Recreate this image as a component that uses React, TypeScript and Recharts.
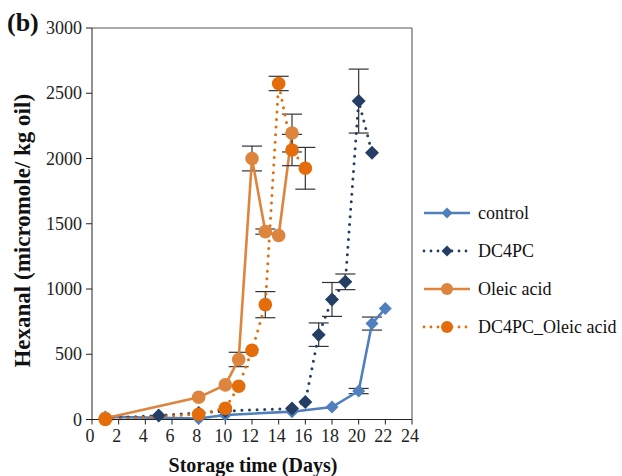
import { LineChart, Line, XAxis, YAxis, ErrorBar, ReferenceLine, Label } from 'recharts';

const SERIF = '"Liberation Serif", "Times New Roman", serif';

// day on the x axis, hexanal in micromole/kg oil, ± error for each point
const controlDays = [1, 8, 10, 15, 18, 20, 21, 22];
const controlHexanal = [20, 8, 35, 60, 95, 218, 735, 850];
const controlErr = [0, 0, 0, 0, 0, 20, 50, 0];

const dc4pcDays = [1, 5, 8, 10, 15, 16, 17, 18, 19, 20, 21];
const dc4pcHexanal = [10, 30, 50, 65, 85, 135, 650, 920, 1055, 2440, 2045];
const dc4pcErr = [0, 0, 0, 0, 0, 0, 90, 130, 60, 245, 0];

const oleicDays = [1, 8, 10, 11, 12, 13, 14, 15];
const oleicHexanal = [10, 170, 265, 460, 2000, 1440, 1410, 2195];
const oleicErr = [0, 0, 0, 55, 95, 20, 0, 145];

const mixDays = [1, 8, 10, 11, 12, 13, 14, 15, 16];
const mixHexanal = [0, 40, 85, 255, 530, 880, 2575, 2065, 1925];
const mixErr = [0, 0, 0, 0, 0, 100, 55, 120, 160];

const xTicks = [0, 2, 4, 6, 8, 10, 12, 14, 16, 18, 20, 22, 24];
const yTicks = [0, 500, 1000, 1500, 2000, 2500, 3000];

const toRows = (days: number[], values: number[], errs: number[]) =>
  days.map((day, i) => ({ day, value: values[i], err: errs[i] }));

type Shape = 'diamond' | 'circle';

const series = [
  { name: 'control', rows: toRows(controlDays, controlHexanal, controlErr), color: '#4f7fbd', dotted: false, shape: 'diamond' as Shape, size: 6.5 },
  { name: 'DC4PC', rows: toRows(dc4pcDays, dc4pcHexanal, dc4pcErr), color: '#243f63', dotted: true, shape: 'diamond' as Shape, size: 7 },
  { name: 'Oleic acid', rows: toRows(oleicDays, oleicHexanal, oleicErr), color: '#dd843e', dotted: false, shape: 'circle' as Shape, size: 6.8 },
  { name: 'DC4PC_Oleic acid', rows: toRows(mixDays, mixHexanal, mixErr), color: '#e46c0a', dotted: true, shape: 'circle' as Shape, size: 6.8 },
];

const Marker = ({ cx, cy, shape, size, color }: { cx: number; cy: number; shape: Shape; size: number; color: string }) =>
  shape === 'diamond' ? (
    <path d={`M${cx},${cy - size}L${cx + size},${cy}L${cx},${cy + size}L${cx - size},${cy}Z`} fill={color} />
  ) : (
    <circle cx={cx} cy={cy} r={size} fill={color} />
  );

// tick labels drawn by hand so the serif face sticks
const XTick = ({ x, y, payload }: any) => (
  <text x={x - 2} y={y + 14} textAnchor="middle" fontFamily={SERIF} fontSize={18} fill="#222">
    {payload.value}
  </text>
);

const YTick = ({ x, y, payload }: any) => (
  <text x={x} y={y + 6} textAnchor="end" fontFamily={SERIF} fontSize={18} fill="#222">
    {payload.value}
  </text>
);

const SeriesLegend = () => (
  <div style={{ position: 'absolute', left: 422, top: 194, fontFamily: SERIF, fontSize: 18, color: '#111' }}>
    {series.map((s) => (
      <div key={s.name} style={{ display: 'flex', alignItems: 'center', height: 38 }}>
        <svg width={54} height={16} style={{ marginRight: 2 }}>
          <line
            x1={2}
            x2={48}
            y1={8}
            y2={8}
            stroke={s.color}
            strokeWidth={s.dotted ? 2.8 : 2.5}
            strokeDasharray={s.dotted ? '0 7' : undefined}
            strokeLinecap={s.dotted ? 'round' : 'butt'}
          />
          <Marker cx={25} cy={8} shape={s.shape} size={s.shape === 'diamond' ? 5.5 : 6} color={s.color} />
        </svg>
        <span>{s.name}</span>
      </div>
    ))}
  </div>
);

export default function App() {
  return (
    <div style={{ position: 'absolute', left: 0, top: 0, width: 622, height: 476, background: '#fff', fontFamily: SERIF }}>
      <div
        style={{
          position: 'absolute',
          left: 7,
          top: 8,
          fontWeight: 'bold',
          fontSize: 26,
          lineHeight: '30px',
          color: '#111',
        }}
      >
        (b)
      </div>
      <LineChart
        width={622}
        height={476}
        margin={{ top: 28, right: 210, left: 32, bottom: 26.5 }}
        style={{ fontFamily: SERIF }}
      >
        <XAxis
          type="number"
          dataKey="day"
          domain={[0, 24]}
          ticks={xTicks}
          interval={0}
          allowDuplicatedCategory={false}
          stroke="#222"
          tickSize={5}
          tickMargin={3}
          height={30}
          tick={<XTick />}
        >
          <Label
            value="Storage time (Days)"
            position="center"
            dx={1}
            dy={30}
            style={{ fontFamily: SERIF, fontSize: 20, fontWeight: 'bold', fill: '#111' }}
          />
        </XAxis>
        <YAxis
          type="number"
          domain={[0, 3000]}
          ticks={yTicks}
          interval={0}
          stroke="#222"
          width={60}
          tickSize={6}
          tickMargin={4}
          tick={<YTick />}
        >
          <Label
            value="Hexanal (micromole/ kg oil)"
            angle={-90}
            position="center"
            dx={-40}
            dy={7}
            style={{ fontFamily: SERIF, fontSize: 23, fontWeight: 'bold', fill: '#111', textAnchor: 'middle' }}
          />
        </YAxis>
        <ReferenceLine y={3000} stroke="#555" strokeWidth={1.2} />
        <ReferenceLine x={24} stroke="#666" strokeWidth={1.2} />
        {series.map((s) => (
          <Line
            key={s.name}
            data={s.rows}
            dataKey="value"
            name={s.name}
            stroke={s.color}
            strokeWidth={s.dotted ? 3 : 2.6}
            strokeDasharray={s.dotted ? '0 7.6' : undefined}
            strokeLinecap={s.dotted ? 'round' : 'butt'}
            isAnimationActive={false}
            dot={(p: any) => <Marker key={`${s.name}-${p.index}`} cx={p.cx} cy={p.cy} shape={s.shape} size={s.size} color={s.color} />}
            activeDot={false}
          >
            <ErrorBar dataKey="err" direction="y" width={10} stroke="#333" strokeWidth={1.2} />
          </Line>
        ))}
      </LineChart>
      <SeriesLegend />
    </div>
  );
}
